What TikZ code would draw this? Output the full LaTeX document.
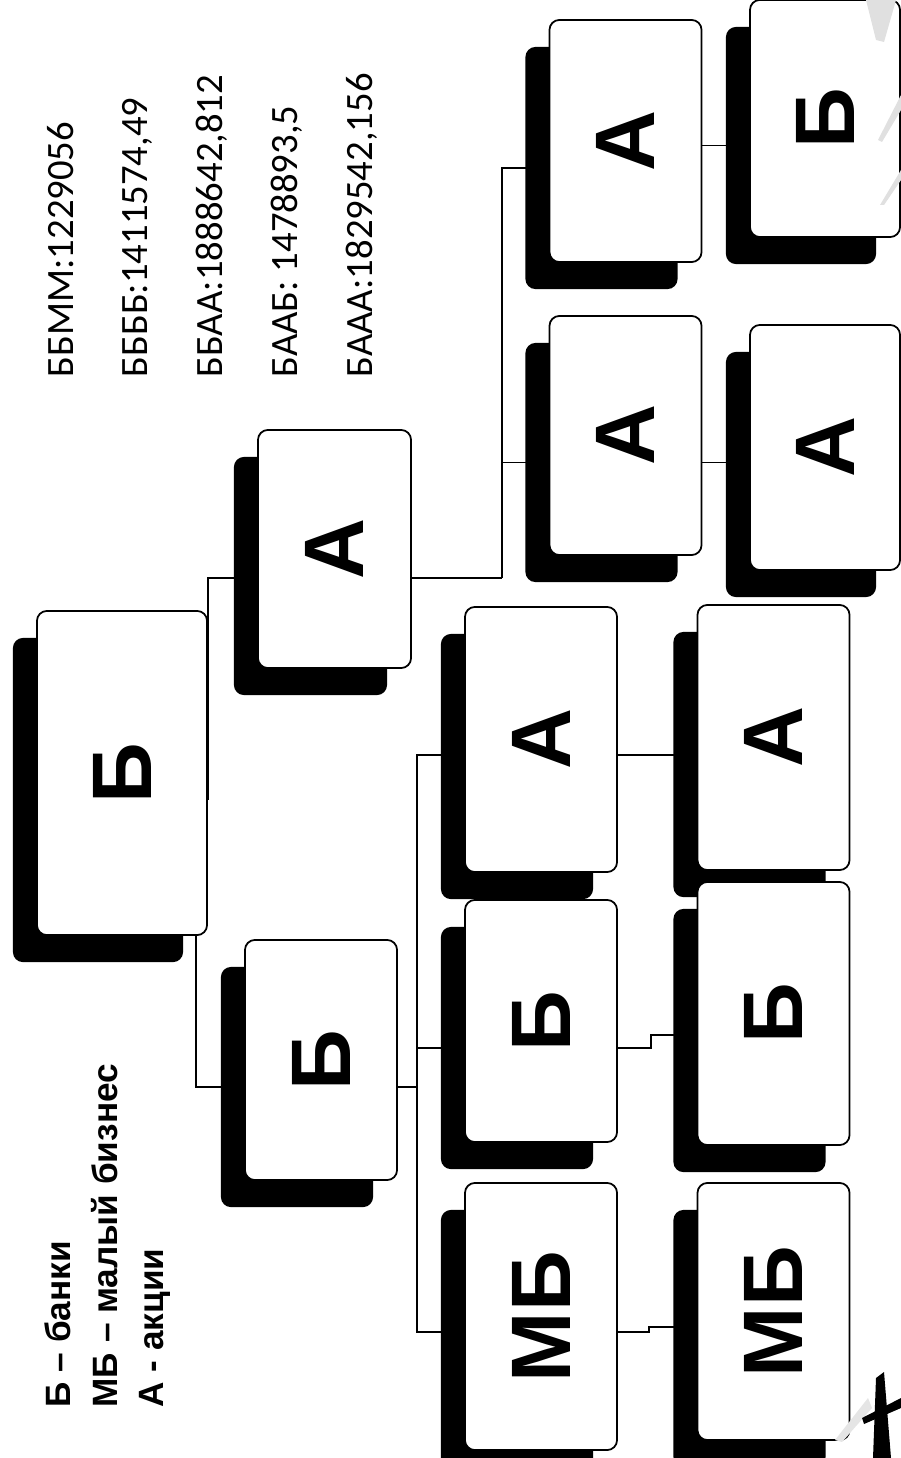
\documentclass[tikz,border=0pt]{standalone}
\usepackage{fontspec}
\setmainfont{Liberation Sans}
\newfontfamily\chiffres{Carlito}
\usetikzlibrary{shadows,backgrounds}
\newcommand{\lettre}[1]{\rotatebox{90}{#1}}
\begin{document}
\begin{tikzpicture}[x=0.01cm,y=-0.01cm,
carte/.style={draw,fill=white,rounded corners=1mm,line width=0.5pt,inner sep=0pt,
  minimum width=1.52cm,font=\fontsize{24}{24}\selectfont\bfseries,
  drop shadow={shadow xshift=-2.4mm,shadow yshift=-2.7mm,opacity=1,fill=black}},
lien/.style={line width=0.5pt},
legende/.style={rotate=90,anchor=base west,inner sep=0pt,font=\fontsize{10}{12}\selectfont\bfseries},
resultat/.style={rotate=90,anchor=base west,inner sep=0pt,font=\chiffres\fontsize{11}{13}\selectfont}]
\useasboundingbox (0,0) rectangle (901,1458);
% legende
\node[legende] (leg1) at (70,1408) {Б – банки};
\node[legende] (leg2) at (117,1408) {МБ – малый бизнес};
\node[legende] (leg3) at (163,1408) {А - акции};
% resultats
\node[resultat] (res1) at (73,378) {ББММ:1229056};
\node[resultat] (res2) at (147,378) {ББББ:1411574,49};
\node[resultat] (res3) at (222,378) {ББАА:1888642,812};
\node[resultat] (res4) at (297,378) {БААБ: 1478893,5};
\node[resultat] (res5) at (372,378) {БААА:1829542,156};
% arbre
\node[carte,minimum width=1.70cm,minimum height=3.24cm] (racine) at (122,773) {\lettre{Б}};
\node[carte,minimum width=1.53cm,minimum height=2.38cm] (a2) at (334.5,549) {\lettre{А}};
\node[carte,minimum height=2.40cm] (b2) at (321,1060) {\lettre{Б}};
\node[carte,minimum height=2.65cm] (a3) at (541,739.5) {\lettre{А}};
\node[carte,minimum height=2.42cm] (b3) at (541,1021) {\lettre{Б}};
\node[carte,minimum height=2.67cm] (mb3) at (541,1316.5) {\lettre{МБ}};
\node[carte,minimum height=2.65cm] (a4) at (773.5,737.5) {\lettre{А}};
\node[carte,minimum height=2.63cm] (b4) at (773.5,1013.5) {\lettre{Б}};
\node[carte,minimum height=2.57cm] (mb4) at (773.5,1311.5) {\lettre{МБ}};
\node[carte,minimum height=2.42cm] (ra3) at (625.5,141) {\lettre{А}};
\node[carte,minimum height=2.39cm] (rb3) at (625.5,435.5) {\lettre{А}};
\node[carte,minimum width=1.50cm,minimum height=2.37cm] (ra4) at (825,118.5) {\lettre{Б}};
\node[carte,minimum width=1.50cm,minimum height=2.45cm] (rb4) at (825,447.5) {\lettre{А}};
\coordinate (a3s) at ([yshift=-1.55mm]a3.east);
\coordinate (ra4s) at ([yshift=-2.7mm]ra4.west);
\coordinate (rb3s) at ([yshift=-2.7mm]rb3.east);
\begin{scope}[on background layer]
\draw[lien] ([yshift=-2.7mm]racine.east) |- ([yshift=-2.9mm]a2.west);
\draw[lien] ([xshift=-1.2mm]racine.south east) |- ([yshift=-2.7mm]b2.west);
\draw[lien] ([yshift=-2.7mm]b2.east) -- ++(19,0) coordinate (busb);
\draw[lien] ([yshift=-1.55mm]a3.west) -| (busb) |- ([yshift=-1.55mm]mb3.west);
\draw[lien] (busb) |- ([yshift=-2.7mm]b3.west);
\draw[lien] ([yshift=-2.9mm]a2.east) -- ++(90,0) coordinate (busa);
\draw[lien] (busa) |- ([yshift=-2.7mm]ra3.west);
\draw[lien] (busa) |- ([yshift=-2.7mm]rb3.west);
\draw[lien] (a3s) -- (a3s -| a4.west);
\draw[lien] ([yshift=-2.7mm]b3.east) -- ++(33,0) |- ([yshift=-2.15mm]b4.west);
\draw[lien] ([yshift=-1.55mm]mb3.east) -- ++(31,0) |- ([yshift=-1.55mm]mb4.west);
\draw[lien] (ra4s -| ra3.east) -- (ra4s);
\draw[lien] (rb3s) -- (rb3s -| rb4.west);
\end{scope}
% traces du fond
\fill[black!12] (866,0) -- (896,0) -- (884,42) -- (876,40) -- cycle;
\fill[black!12] (878,140) -- (901,95) -- (901,110) -- (882,142) -- cycle;
\fill[black!12] (880,205) -- (901,170) -- (901,180) -- (884,205) -- cycle;
\fill[black!10] (835,1440) -- (868,1398) -- (872,1408) -- (842,1442) -- cycle;
\fill[black] (876,1378) -- (884,1372) -- (891,1458) -- (873,1458) -- cycle;
\fill[black] (862,1418) -- (901,1398) -- (901,1408) -- (864,1424) -- cycle;
\end{tikzpicture}
\end{document}
